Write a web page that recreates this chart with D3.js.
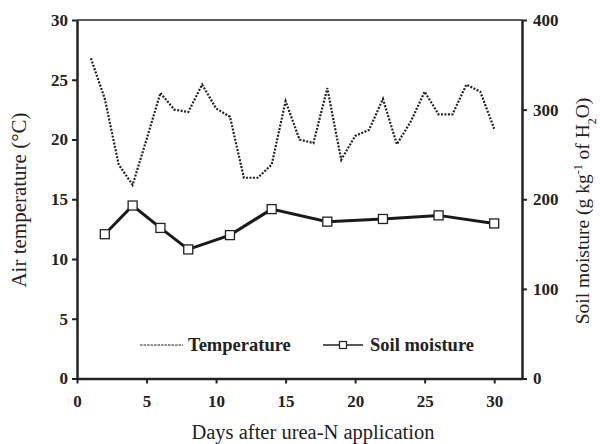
<!DOCTYPE html>
<html><head><meta charset="utf-8">
<script src="https://cdn.jsdelivr.net/npm/d3@7"></script>
<style>body{margin:0;background:#fff}svg{display:block}</style>
</head><body>
<script>
const tempDays = [1,2,3,4,5,6,7,8,9,10,11,12,13,14,15,16,17,18,19,20,21,22,23,24,25,26,27,28,29,30];
const tempValues = [26.8,23.4,17.9,16.2,20.0,23.9,22.5,22.3,24.6,22.6,21.9,16.8,16.8,17.9,23.2,20.0,19.7,24.3,18.3,20.3,20.8,23.4,19.6,21.5,24.0,22.1,22.1,24.6,24.0,20.9];
const moistDays = [2,4,6,8,11,14,18,22,26,30];
const moistValues = [161,193,168,144,160,189,175,178,182,173];
const xTicks = [0,5,10,15,20,25,30];
const yLeftTicks = [0,5,10,15,20,25,30];
const yRightTicks = [0,100,200,300,400];

const W = 600, H = 444;
const svg = d3.select("body").append("svg").attr("width", W).attr("height", H);
const L = 77, R = 522, T = 20, B = 378.5;
const x = d3.scaleLinear().domain([0,32]).range([L,R]);
const yL = d3.scaleLinear().domain([0,30]).range([B,T]);
const yR = d3.scaleLinear().domain([0,400]).range([B,T]);
const font = "'Liberation Serif','Times New Roman',serif";

// top border
svg.append("line").attr("x1",L).attr("x2",R).attr("y1",T).attr("y2",T).attr("stroke","#222").attr("stroke-width",1.5);

function styleAxis(g){
  g.select(".domain").attr("stroke","#222").attr("stroke-width",2.5);
  g.selectAll(".tick line").attr("stroke","#222").attr("stroke-width",2);
  g.selectAll(".tick text").attr("font-family",font).attr("font-weight","bold").attr("font-size",17).attr("fill","#222");
}
const gx = svg.append("g").attr("transform",`translate(0,${B})`)
  .call(d3.axisBottom(x).tickValues(xTicks).tickSize(5).tickSizeOuter(0).tickPadding(11));
styleAxis(gx);
const gl = svg.append("g").attr("transform",`translate(${L},0)`)
  .call(d3.axisLeft(yL).tickValues(yLeftTicks).tickSize(5).tickSizeOuter(0).tickPadding(4));
styleAxis(gl);
const gr = svg.append("g").attr("transform",`translate(${R},0)`)
  .call(d3.axisRight(yR).tickValues(yRightTicks).tickSize(5).tickSizeOuter(0).tickPadding(6));
styleAxis(gr);

// temperature line
const tempData = tempDays.map((d,i)=>[d,tempValues[i]]);
svg.append("path").datum(tempData)
  .attr("d", d3.line().x(d=>x(d[0])).y(d=>yL(d[1])))
  .attr("fill","none").attr("stroke","#222").attr("stroke-width",2.2).attr("stroke-dasharray","2,1.5");

// moisture line
const moistData = moistDays.map((d,i)=>[d,moistValues[i]]);
svg.append("path").datum(moistData)
  .attr("d", d3.line().x(d=>x(d[0])).y(d=>yR(d[1])))
  .attr("fill","none").attr("stroke","#1a1a1a").attr("stroke-width",3);
svg.selectAll("rect.m").data(moistData).enter().append("rect")
  .attr("x",d=>x(d[0])-4.5).attr("y",d=>yR(d[1])-4.5).attr("width",9).attr("height",9)
  .attr("fill","#fff").attr("stroke","#222").attr("stroke-width",1.3);

// legend
const ly = 345;
svg.append("line").attr("x1",140).attr("x2",183).attr("y1",ly).attr("y2",ly)
  .attr("stroke","#222").attr("stroke-width",1).attr("stroke-dasharray","2.5,1");
svg.append("text").attr("x",188).attr("y",ly+6).text("Temperature")
  .attr("font-family",font).attr("font-weight","bold").attr("font-size",18.5).attr("fill","#222");
svg.append("line").attr("x1",323).attr("x2",363).attr("y1",ly).attr("y2",ly)
  .attr("stroke","#222").attr("stroke-width",1.3);
svg.append("rect").attr("x",339.5).attr("y",ly-3.5).attr("width",7).attr("height",7)
  .attr("fill","#fff").attr("stroke","#222").attr("stroke-width",1.2);
svg.append("text").attr("x",370).attr("y",ly+6).text("Soil moisture")
  .attr("font-family",font).attr("font-weight","bold").attr("font-size",18.5).attr("fill","#222");

// axis titles
svg.append("text").attr("x",313).attr("y",439).attr("text-anchor","middle")
  .attr("font-family",font).attr("font-size",20.5).attr("fill","#222").text("Days after urea-N  application");
svg.append("text").attr("transform","translate(26,200) rotate(-90)").attr("text-anchor","middle")
  .attr("font-family",font).attr("font-size",21).attr("fill","#222").text("Air temperature (\u00B0C)");
const rt = svg.append("text").attr("transform","translate(589,211) rotate(-90)").attr("text-anchor","middle")
  .attr("font-family",font).attr("font-size",19.5).attr("fill","#222");
rt.append("tspan").text("Soil moisture (g kg");
rt.append("tspan").attr("baseline-shift","super").attr("font-size",12).text("-1");
rt.append("tspan").text(" of H");
rt.append("tspan").attr("baseline-shift","sub").attr("font-size",12).text("2");
rt.append("tspan").text("O)");
</script>
</body></html>
